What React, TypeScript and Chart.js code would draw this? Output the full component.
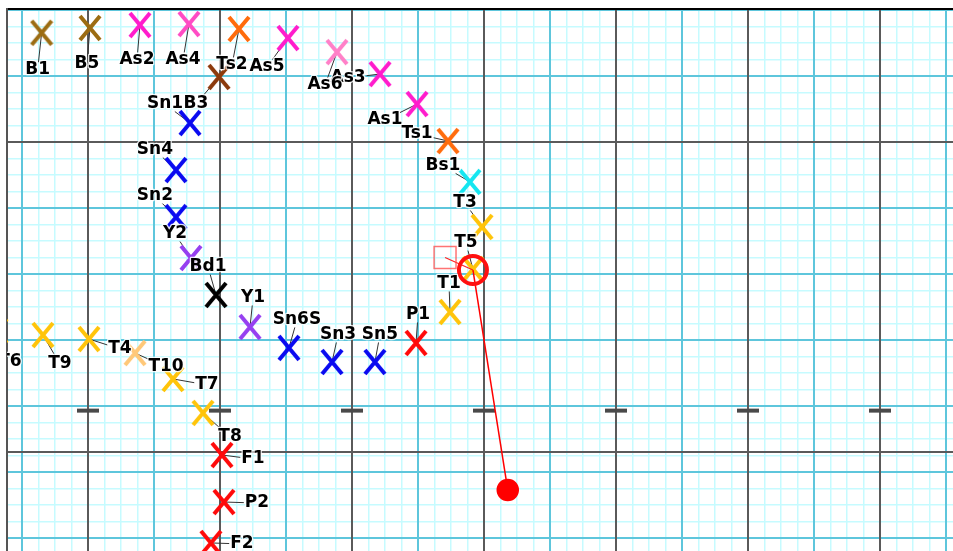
import React, { useEffect, useRef } from 'react';
import { Chart, registerables } from 'chart.js';

Chart.register(...registerables);

// ---- data (grid-cell units: x to the right, y upwards) ----
const stationNames = ['B1', 'B5', 'As2', 'As4', 'Ts2', 'As5', 'As3', 'As6', 'As1', 'Ts1', 'Bs1', 'B3', 'Sn1', 'Sn4', 'Sn2', 'Y2', 'Bd1', 'Y1', 'Sn6S', 'Sn3', 'Sn5', 'P1', 'T1', 'T3', 'T5', 'T6', 'T9', 'T4', 'T10', 'T7', 'T8', 'F1', 'P2', 'F2'];
const stationX = [-2.81, 0.12, 3.15, 6.12, 9.15, 12.12, 17.7, 15.09, 19.94, 21.82, 23.15, 7.94, 6.18, 5.33, 5.33, 6.24, 7.76, 9.82, 12.18, 14.79, 17.39, 19.88, 21.94, 23.88, 23.33, -5.52, -2.73, 0.06, 2.85, 5.15, 6.97, 8.12, 8.24, 7.45];
const stationY = [6.62, 6.91, 7.09, 7.15, 6.85, 6.3, 4.12, 5.45, 2.3, 0.06, -2.42, 3.94, 1.15, -1.7, -4.55, -7.03, -9.27, -11.21, -12.48, -13.33, -13.33, -12.18, -10.3, -5.15, -7.7, -11.45, -11.7, -11.94, -12.79, -14.36, -16.42, -18.97, -21.82, -24.3];

const markX = [0, 8, 16, 24, 32, 40, 48];
const markY = [-16.28, -16.28, -16.28, -16.28, -16.28, -16.28, -16.28];

const boxPoint = [21.64, -7.0];
const ringPoint = [23.33, -7.76];
const dotPoint = [25.44, -21.09];

// grid spacings (grid-cell units)
const fineStep = 1;
const mediumStep = 4;
const majorStepX = 8;
const majorRowsY = [0, -18.79];

// ---- styles ----
const BROWN = '#9c6c12';
const MAG = '#ff1ccc';
const ORANGE = '#ff6c0c';
const BLUE = '#0a0af0';
const PURPLE = '#9640f0';
const YEL = '#ffc40a';
const RED = '#ff0a0a';
const stationColors = [BROWN, BROWN, MAG, '#ff4cc4', ORANGE, MAG, MAG, '#ff80c8', MAG, ORANGE, '#14e6f0', '#8c3a0c', BLUE, BLUE, BLUE, PURPLE, '#000000', PURPLE, BLUE, BLUE, BLUE, RED, YEL, YEL, YEL, YEL, YEL, YEL, '#ffc878', YEL, YEL, RED, RED, RED];
// label offsets from the marker, in pixels
const labelDX = [-4, -3, -3, -6, -7, -21, -32, -12, -32, -31, -27, -23, -25, -21, -21, -16, -8, 3, 8, 6, 5, 2, -1, -17, -7, 13, 17, 31, 31, 34, 27, 31, 33, 31];
const labelDY = [35, 34, 33, 34, 34, 27, 2, 31, 14, -9, -18, 25, -21, -22, -23, -26, -30, -31, -30, -29, -29, -30, -30, -26, -28, 29, 27, 8, 12, 4, 22, 2, -1, -1];

const X_MIN = -81 / 16.5;
const X_MAX = (980 - 88) / 16.5;
const Y_MIN = (142 - 580) / 16.5;
const Y_MAX = 133 / 16.5;

function makeX(color: string) {
  const c = document.createElement('canvas');
  c.width = 24;
  c.height = 28;
  const g = c.getContext('2d')!;
  g.strokeStyle = color;
  g.lineWidth = 4;
  g.beginPath();
  g.moveTo(2, 2);
  g.lineTo(22, 26);
  g.moveTo(22, 2);
  g.lineTo(2, 26);
  g.stroke();
  return c;
}

const FONT = 'bold 17px "DejaVu Sans"';
const TEXT_SHIFT = 2;

function clipToArea(chart: any) {
  const a = chart.chartArea;
  chart.ctx.beginPath();
  chart.ctx.rect(a.left, a.top, a.right - a.left, a.bottom - a.top);
  chart.ctx.clip();
}

const labelPlugin = {
  id: 'stationLabels',
  beforeDatasetsDraw(chart: any) {
    const meta = chart.getDatasetMeta(0);
    const ctx = chart.ctx;
    ctx.save();
    clipToArea(chart);
    ctx.font = FONT;
    ctx.strokeStyle = '#333333';
    ctx.lineWidth = 1;
    meta.data.forEach((el: any, i: number) => {
      const px = el.x, py = el.y;
      const dx = labelDX[i], dy = labelDY[i] + TEXT_SHIFT;
      const hw = ctx.measureText(stationNames[i]).width / 2 + 1;
      const hh = 7.5;
      const tx = Math.abs(dx) > hw ? (Math.abs(dx) - hw) / Math.abs(dx) : 0;
      const ty = Math.abs(dy) > hh ? (Math.abs(dy) - hh) / Math.abs(dy) : 0;
      const t = Math.max(tx, ty);
      ctx.beginPath();
      ctx.moveTo(px, py);
      ctx.lineTo(px + dx * t, py + dy * t);
      ctx.stroke();
    });
    ctx.restore();
  },
  afterDatasetsDraw(chart: any) {
    const meta = chart.getDatasetMeta(0);
    const ctx = chart.ctx;
    ctx.save();
    clipToArea(chart);
    ctx.font = FONT;
    ctx.textAlign = 'center';
    ctx.textBaseline = 'middle';
    ctx.lineJoin = 'round';
    meta.data.forEach((el: any, i: number) => {
      const x = el.x + labelDX[i];
      const y = el.y + labelDY[i] + TEXT_SHIFT;
      ctx.strokeStyle = 'rgba(255,255,255,0.85)';
      ctx.lineWidth = 2.5;
      ctx.strokeText(stationNames[i], x, y);
      ctx.fillStyle = '#000000';
      ctx.fillText(stationNames[i], x, y);
    });
    ctx.restore();
  },
};

function multiples(min: number, max: number, step: number) {
  const out: number[] = [];
  for (let k = Math.ceil(min / step); k * step <= max; k++) out.push(k * step);
  return out;
}

function gridAxis(position: string, min: number, max: number, values: number[], color: string, width: number, z: number, border?: any) {
  const horizontal = position === 'top' || position === 'bottom';
  return {
    type: 'linear',
    position,
    min,
    max,
    ticks: { display: false },
    grid: { display: true, color, lineWidth: width, drawTicks: false, z },
    border: border || { display: false },
    title: { display: false },
    afterBuildTicks: (s: any) => {
      s.min = min;
      s.max = max;
      s.ticks = values.map((v) => ({ value: v }));
    },
    afterFit: (s: any) => {
      if (horizontal) s.height = 0;
      else s.width = 0;
      s.paddingLeft = 0;
      s.paddingRight = 0;
      s.paddingTop = 0;
      s.paddingBottom = 0;
    },
  };
}

export default function App() {
  const ref = useRef<HTMLCanvasElement>(null);
  useEffect(() => {
    const canvas = ref.current!;
    const markers = stationColors.map(makeX);
    const ring = { x: ringPoint[0], y: ringPoint[1] };
    const box = { x: boxPoint[0], y: boxPoint[1] };
    const dot = { x: dotPoint[0], y: dotPoint[1] };
    const chart = new Chart(canvas, {
      type: 'scatter',
      data: {
        datasets: [
          {
            label: 'stations',
            data: stationNames.map((_, i) => ({ x: stationX[i], y: stationY[i] })),
            pointStyle: markers as any,
            pointRadius: 12,
            pointBorderWidth: 0,
            clip: 0 as any,
            order: 3,
          },
          {
            label: 'marks',
            data: markX.map((x, i) => ({ x, y: markY[i] })),
            pointStyle: 'line',
            pointRadius: 11,
            pointBorderWidth: 4,
            pointBorderColor: '#4a4a4a',
            clip: false as any,
            order: 5,
          },
          {
            label: 'link',
            data: [box, ring],
            showLine: true,
            borderColor: '#ff2020',
            borderWidth: 1.2,
            pointStyle: 'rect',
            pointRadius: [15.5, 0] as any,
            pointBorderWidth: 1.5,
            pointBorderColor: 'rgba(255,70,70,0.75)',
            pointBackgroundColor: 'rgba(0,0,0,0)',
            order: 2,
          },
          {
            label: 'track',
            data: [ring, dot],
            showLine: true,
            borderColor: '#ff0000',
            borderWidth: 1.5,
            pointRadius: [0, 10.5] as any,
            pointBackgroundColor: '#ff0000',
            pointBorderColor: '#ff0000',
            clip: false as any,
            order: 1,
          },
          {
            label: 'ring',
            data: [ring],
            pointRadius: 14,
            pointBorderWidth: 4,
            pointBorderColor: '#ff1010',
            pointBackgroundColor: 'rgba(0,0,0,0)',
            clip: false as any,
            order: 0,
          },
        ],
      },
      options: {
        responsive: false,
        animation: false,
        devicePixelRatio: 1,
        events: [],
        layout: { autoPadding: false, padding: { left: 7, top: 9, right: 0, bottom: 0 } },
        plugins: { legend: { display: false }, tooltip: { enabled: false }, title: { display: false } },
        scales: {
          x: gridAxis('top', X_MIN, X_MAX, multiples(X_MIN, X_MAX, fineStep), '#c6fbff', 1.5, -3, { display: true, color: '#000000', width: 2 }),
          y: gridAxis('left', Y_MIN, Y_MAX, multiples(Y_MIN, Y_MAX, fineStep), '#c6fbff', 1.5, -3, { display: true, color: '#555555', width: 2 }),
          x2: gridAxis('top', X_MIN, X_MAX, multiples(X_MIN, X_MAX, mediumStep), '#5ec6dc', 2, -2),
          y2: gridAxis('left', Y_MIN, Y_MAX, multiples(Y_MIN, Y_MAX, mediumStep), '#5ec6dc', 2, -2),
          x3: gridAxis('top', X_MIN, X_MAX, multiples(X_MIN, X_MAX, majorStepX), '#5a5a5a', 2, -1),
          y3: gridAxis('left', Y_MIN, Y_MAX, majorRowsY, '#5a5a5a', 2, -1),
        } as any,
      },
      plugins: [labelPlugin as any],
    });
    return () => chart.destroy();
  }, []);
  return (
    <div style={{ position: 'fixed', left: 0, top: 0, width: 953, height: 551, overflow: 'hidden', background: '#ffffff' }}>
      <canvas ref={ref} width={980} height={580} style={{ display: 'block', width: 980, height: 580 }} />
    </div>
  );
}
